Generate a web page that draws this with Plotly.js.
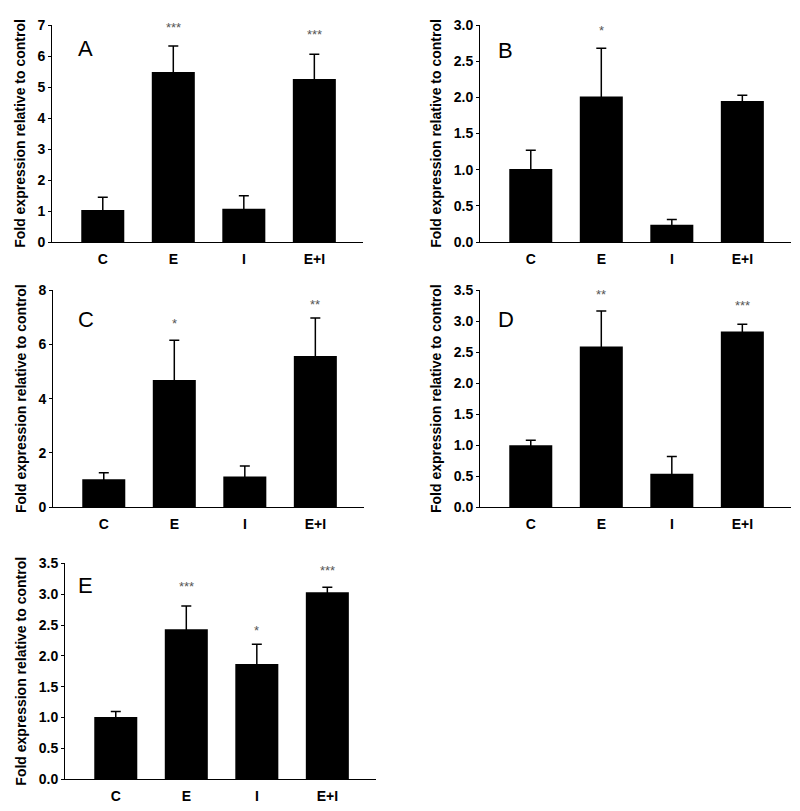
<!DOCTYPE html>
<html>
<head>
<meta charset="utf-8">
<script src="https://cdn.plot.ly/plotly-3.0.1.min.js"></script>
<style>html,body{margin:0;padding:0;background:#fff;}#chart{width:800px;height:811px;}</style>
</head>
<body>
<div id="chart"></div>
<script>
const categories = ["C", "E", "I", "E+I"];

const valuesA = [1.03, 5.48, 1.07, 5.26];
const errorsA = [0.41, 0.84, 0.42, 0.80];
const starsA  = ["", "***", "", "***"];

const valuesB = [1.01, 2.01, 0.24, 1.95];
const errorsB = [0.26, 0.67, 0.07, 0.08];
const starsB  = ["", "*", "", ""];

const valuesC = [1.03, 4.69, 1.13, 5.57];
const errorsC = [0.24, 1.46, 0.39, 1.40];
const starsC  = ["", "*", "", "**"];

const valuesD = [1.00, 2.59, 0.54, 2.83];
const errorsD = [0.08, 0.57, 0.28, 0.12];
const starsD  = ["", "**", "", "***"];

const valuesE = [1.01, 2.43, 1.87, 3.03];
const errorsE = [0.09, 0.38, 0.32, 0.08];
const starsE  = ["", "***", "*", "***"];

const panelLetters = ["A", "B", "C", "D", "E"];
const yTitle = "Fold expression relative to control";

const W = 800, H = 811;
const FONT = "Liberation Sans, Arial, sans-serif";

const panels = [
  {vals: valuesA, errs: errorsA, stars: starsA, px: [52, 363], py: [25, 242], yr: [0, 7], dt: 1, fmt: "d", letter: [85.5, 48], starShift: [0, 17, 0, 18]},
  {vals: valuesB, errs: errorsB, stars: starsB, px: [480, 791], py: [25, 242], yr: [0, 3], dt: 0.5, fmt: ".1f", letter: [506, 50], starShift: [0, 16, 0, 0]},
  {vals: valuesC, errs: errorsC, stars: starsC, px: [53, 364], py: [290, 507.3], yr: [0, 8], dt: 2, fmt: "d", letter: [86, 320], starShift: [0, 15, 0, 11]},
  {vals: valuesD, errs: errorsD, stars: starsD, px: [480, 791], py: [290, 507.3], yr: [0, 3.5], dt: 0.5, fmt: ".1f", letter: [506, 319], starShift: [0, 15, 0, 17]},
  {vals: valuesE, errs: errorsE, stars: starsE, px: [65, 376], py: [563.3, 779.3], yr: [0, 3.5], dt: 0.5, fmt: ".1f", letter: [85.5, 585], starShift: [0, 17, 12, 15]}
];

const data = [];
const layout = {
  width: W, height: H,
  margin: {l: 0, r: 0, t: 0, b: 0},
  paper_bgcolor: "#fff", plot_bgcolor: "#fff",
  showlegend: false,
  font: {family: FONT, color: "#000"},
  annotations: []
};

panels.forEach((p, i) => {
  const n = i + 1;
  const xa = n === 1 ? "x" : "x" + n;
  const ya = n === 1 ? "y" : "y" + n;
  data.push({
    type: "bar",
    x: categories,
    y: p.vals,
    xaxis: xa, yaxis: ya,
    width: 0.61,
    marker: {color: "#000", line: {width: 0}},
    error_y: {type: "data", array: p.errs, visible: true, color: "#000", thickness: 1.5, width: 5},
    hoverinfo: "x+y"
  });
  const xKey = n === 1 ? "xaxis" : "xaxis" + n;
  const yKey = n === 1 ? "yaxis" : "yaxis" + n;
  layout[xKey] = {
    domain: [p.px[0] / W, p.px[1] / W],
    anchor: ya,
    range: [-0.72, 3.69],
    showgrid: false, zeroline: false,
    showline: true, linecolor: "#000", linewidth: 1,
    ticks: "", ticklabelstandoff: 4,
    tickfont: {family: FONT, size: 14, color: "#000", weight: "bold"},
    fixedrange: true
  };
  layout[yKey] = {
    domain: [1 - p.py[1] / H, 1 - p.py[0] / H],
    anchor: xa,
    range: p.yr,
    dtick: p.dt, tick0: 0,
    tickformat: p.fmt,
    showgrid: false, zeroline: false,
    showline: true, linecolor: "#000", linewidth: 1,
    ticks: "outside", ticklen: 3, tickcolor: "#000",
    tickfont: {family: FONT, size: 14, color: "#000", weight: "bold"},
    title: {text: yTitle, font: {family: FONT, size: 14, color: "#000", weight: "bold"}, standoff: 8},
    fixedrange: true
  };
  layout.annotations.push({
    xref: "paper", yref: "paper",
    x: p.letter[0] / W, y: 1 - p.letter[1] / H,
    xanchor: "center", yanchor: "middle",
    text: panelLetters[i], showarrow: false,
    font: {family: FONT, size: 22, color: "#000"}
  });
  p.stars.forEach((s, j) => {
    if (!s) return;
    layout.annotations.push({
      xref: xa, yref: ya,
      x: categories[j], y: p.vals[j] + p.errs[j],
      xanchor: "center", yanchor: "middle",
      yshift: p.starShift[j] + 2,
      text: s, showarrow: false,
      font: {family: FONT, size: 13, color: "#555"}
    });
  });
});

Plotly.newPlot("chart", data, layout, {displayModeBar: false, staticPlot: false});
</script>
</body>
</html>
